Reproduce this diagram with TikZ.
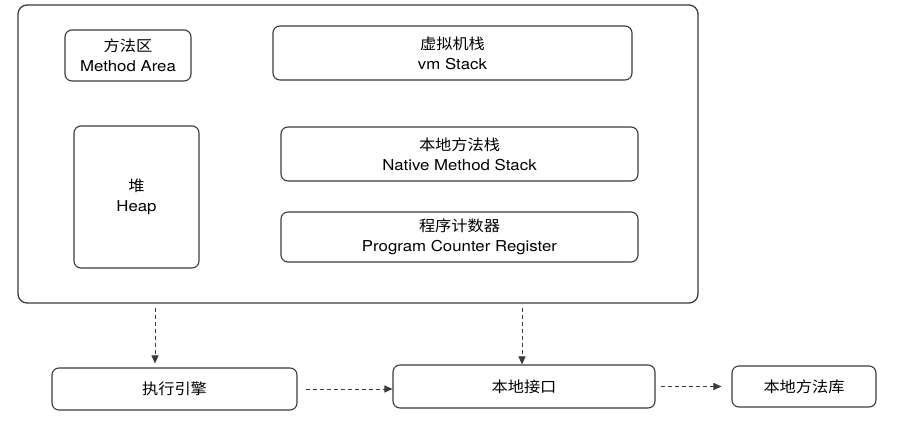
\documentclass[tikz,border=0pt]{standalone}
\usepackage{fontspec}
\setmainfont[FakeStretch=1.12]{TeX Gyre Heros}
\newfontfamily\cjk[FakeStretch=1.08]{Noto Sans CJK SC}
\usetikzlibrary{arrows.meta}
\definecolor{linec}{HTML}{3A3A3A}
\tikzset{
  box/.style={draw=linec, line width=1.1pt, rounded corners=7pt, align=center,
    inner sep=0pt, font=\fontsize{15}{20}\selectfont, text=black},
  arr/.style={draw=linec, line width=0.9pt, dash pattern=on 4pt off 3pt,
    -{Triangle[length=8pt,width=7pt]}},
}
\begin{document}
\begin{tikzpicture}[x=1pt,y=-1pt]
\useasboundingbox (0,0) rectangle (922,430);
\node[box, line width=1.3pt, rounded corners=9pt, minimum width=680pt, minimum height=298pt] (jvm) at (358,154) {};
\node[box, minimum width=126pt, minimum height=51pt] (method) at (128,55.5) {{\cjk 方法区}\\Method Area};
\node[box, minimum width=359pt, minimum height=54pt] (vm) at (452.5,53) {{\cjk 虚拟机栈}\\vm Stack};
\node[box, minimum width=125pt, minimum height=142pt] (heap) at (136.5,197) {{\cjk 堆}\\Heap};
\node[box, minimum width=357pt, minimum height=54pt] (native) at (459.5,154) {{\cjk 本地方法栈}\\Native Method Stack};
\node[box, minimum width=357pt, minimum height=50pt] (pcr) at (459.5,237) {{\cjk 程序计数器}\\Program Counter Register};
\node[box, minimum width=245pt, minimum height=42pt] (exec) at (174.5,389) {\cjk 执行引擎};
\node[box, minimum width=262pt, minimum height=43pt] (local) at (524,386.5) {\cjk 本地接口};
\node[box, minimum width=144pt, minimum height=41pt] (lib) at (804,386.5) {\cjk 本地方法库};
\draw[arr] ([xshift=-203pt,yshift=-4pt]jvm.south) -- ([xshift=-19.5pt,yshift=4pt]exec.north);
\draw[arr] ([xshift=164pt,yshift=-4pt]jvm.south) -- ([xshift=-2pt]local.north);
\draw[arr] ([xshift=8pt,yshift=0pt]exec.east) -- (exec.east -| local.west);
\draw[arr] ([xshift=5pt]local.east) -- ([xshift=-10pt]lib.west);
\end{tikzpicture}
\end{document}
